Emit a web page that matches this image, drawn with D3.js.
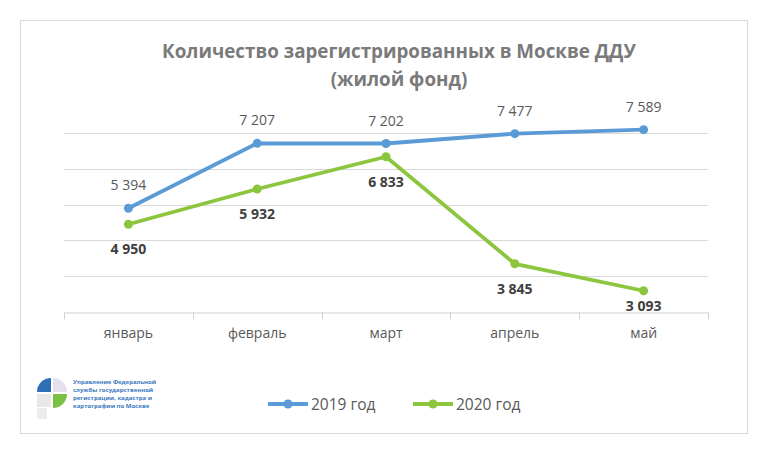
<!DOCTYPE html>
<html>
<head>
<meta charset="utf-8">
<script src="https://cdn.jsdelivr.net/npm/d3@7"></script>
<style>
  body { margin: 0; background: #fff; }
  svg { display: block; font-family: "Open Sans", "Noto Sans", sans-serif; }
</style>
</head>
<body>
<svg width="768" height="452"></svg>
<script>
var months = ["январь", "февраль", "март", "апрель", "май"];
var values2019 = [5394, 7207, 7202, 7477, 7589];
var values2020 = [4950, 5932, 6833, 3845, 3093];
var seriesNames = ["2019 год", "2020 год"];
var gridTicks = [3500, 4500, 5500, 6500, 7500];

var fmt = d => d3.format(",")(d).replace(/,/g, " ");

var svg = d3.select("svg");

// frame
svg.append("rect")
  .attr("x", 20.5).attr("y", 20.5)
  .attr("width", 727).attr("height", 413)
  .attr("fill", "#fff")
  .attr("stroke", "#d9d9d9");

var plot = {left: 64, right: 708, top: 97, bottom: 312};

var x = d3.scaleBand()
  .domain(months)
  .range([plot.left, plot.right]);

var y = d3.scaleLinear()
  .domain([2500, 8500])
  .range([plot.bottom, plot.top]);

// title
svg.append("text")
  .attr("x", 399).attr("y", 58)
  .attr("text-anchor", "middle")
  .attr("font-size", 18.8).attr("font-weight", "bold")
  .attr("fill", "#7a7a7a")
  .text("Количество зарегистрированных в Москве ДДУ");
svg.append("text")
  .attr("x", 399).attr("y", 86)
  .attr("text-anchor", "middle")
  .attr("font-size", 18.8).attr("font-weight", "bold")
  .attr("fill", "#7a7a7a")
  .text("(жилой фонд)");

// gridlines
svg.append("g")
  .selectAll("line")
  .data(gridTicks)
  .enter()
  .append("line")
  .attr("x1", plot.left).attr("x2", plot.right)
  .attr("y1", d => Math.round(y(d)) + 0.5)
  .attr("y2", d => Math.round(y(d)) + 0.5)
  .attr("stroke", "#d9d9d9");

// x axis
var xAxis = svg.append("g")
  .attr("transform", `translate(0, ${plot.bottom + 0.5})`)
  .call(d3.axisBottom(x).tickSize(0).tickPadding(16));
xAxis.select(".domain").attr("stroke", "#d0d0d0");
xAxis.selectAll("text")
  .attr("font-size", 14)
  .attr("fill", "#595959")
  .attr("font-family", "\"Open Sans\", sans-serif");

var bounds = [0].concat(months.map(m => x(m) + x.bandwidth()));
xAxis.selectAll(".tick-mark")
  .data(bounds)
  .enter()
  .append("line")
  .attr("x1", (d, i) => i === 0 ? plot.left + 0.5 : Math.round(d) + 0.5)
  .attr("x2", (d, i) => i === 0 ? plot.left + 0.5 : Math.round(d) + 0.5)
  .attr("y1", 0).attr("y2", 7)
  .attr("stroke", "#d0d0d0");

var colors = ["#5b9bd5", "#8cc63f"];
var series = [values2019, values2020];

var line = d3.line()
  .x((d, i) => x(months[i]) + x.bandwidth() / 2)
  .y(d => y(d));

series.forEach(function(vals, s) {
  var g = svg.append("g");
  g.append("path")
    .datum(vals)
    .attr("d", line)
    .attr("fill", "none")
    .attr("stroke", colors[s])
    .attr("stroke-width", 3.8)
    .attr("stroke-linejoin", "round");
  g.selectAll("circle")
    .data(vals)
    .enter()
    .append("circle")
    .attr("cx", (d, i) => x(months[i]) + x.bandwidth() / 2)
    .attr("cy", d => y(d))
    .attr("r", 4.5)
    .attr("fill", colors[s]);
  g.selectAll("text")
    .data(vals)
    .enter()
    .append("text")
    .attr("x", (d, i) => x(months[i]) + x.bandwidth() / 2)
    .attr("y", d => s === 0 ? y(d) - 18 : Math.min(y(d) + 30, plot.bottom - 1))
    .attr("text-anchor", "middle")
    .attr("font-size", 14)
    .attr("font-weight", s === 0 ? "normal" : "bold")
    .attr("fill", s === 0 ? "#595959" : "#404040")
    .text(fmt);
});

// legend
var legend = svg.append("g");
var legendX = [268, 413];
seriesNames.forEach(function(name, s) {
  var lg = legend.append("g").attr("transform", `translate(${legendX[s]}, 404)`);
  lg.append("line")
    .attr("x1", 0).attr("x2", 40)
    .attr("stroke", colors[s]).attr("stroke-width", 3.8);
  lg.append("circle").attr("cx", 20).attr("r", 4.5).attr("fill", colors[s]);
  lg.append("text")
    .attr("x", 43).attr("y", 5.5)
    .attr("font-size", 15.5)
    .attr("fill", "#595959")
    .text(name);
});

// logo
var logo = svg.append("g").attr("transform", "translate(52, 393)");
var arcGen = d3.arc().innerRadius(0).outerRadius(14);
logo.append("path").attr("d", arcGen({startAngle: -Math.PI / 2, endAngle: 0}))
  .attr("transform", "translate(-1,-1)").attr("fill", "#2f6fb5");
logo.append("path").attr("d", arcGen({startAngle: 0, endAngle: Math.PI / 2}))
  .attr("transform", "translate(1,-1)").attr("fill", "#e4e0ee");
logo.append("path").attr("d", arcGen({startAngle: Math.PI / 2, endAngle: Math.PI}))
  .attr("transform", "translate(1,1)").attr("fill", "#7bbf45");
logo.append("rect").attr("x", -15).attr("y", 1).attr("width", 14).attr("height", 13).attr("fill", "#e8e8e8");
logo.append("rect").attr("x", -15).attr("y", 15).attr("width", 10).attr("height", 11).attr("fill", "#ececec");

var logoText = ["Управление Федеральной", "службы государственной", "регистрации, кадастра и", "картографии по Москве"];
svg.append("g")
  .selectAll("text")
  .data(logoText)
  .enter()
  .append("text")
  .attr("x", 73)
  .attr("y", (d, i) => 384 + i * 8)
  .attr("font-size", 6)
  .attr("font-weight", "bold")
  .attr("fill", "#3a78c0")
  .text(d => d);
</script>
</body>
</html>
